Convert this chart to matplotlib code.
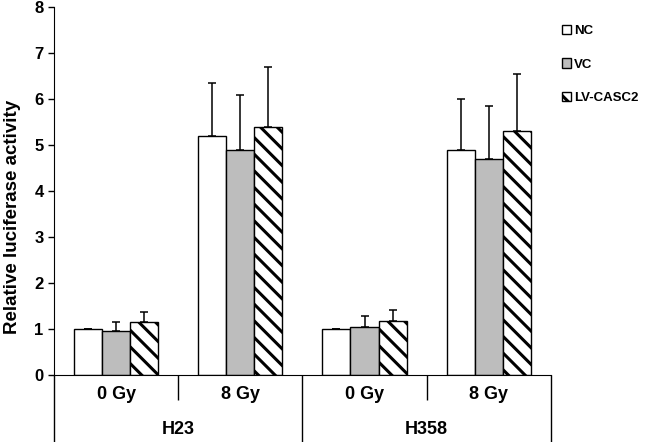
import numpy as np
import matplotlib
matplotlib.use('Agg')
import matplotlib.pyplot as plt

plt.rcParams['font.family'] = ['Liberation Sans', 'DejaVu Sans']
plt.rcParams['font.weight'] = 'bold'
plt.rcParams['hatch.linewidth'] = 2.2

doses = ['0 Gy', '8 Gy', '0 Gy', '8 Gy']
cells = ['H23', 'H358']
series = ['NC', 'VC', 'LV-CASC2']

nc = [1.0, 5.2, 1.0, 4.9]
vc = [0.95, 4.9, 1.05, 4.7]
lv = [1.15, 5.4, 1.18, 5.3]

nc_err = [0.0, 1.15, 0.0, 1.1]
vc_err = [0.2, 1.18, 0.23, 1.15]
lv_err = [0.22, 1.3, 0.24, 1.25]

fig = plt.figure(figsize=(6.45, 4.42), dpi=100)
ax = fig.add_axes([0.0837, 0.1516, 0.7703, 0.8326])

x = np.arange(len(doses))
w = 0.226
styles = [
    dict(facecolor='white', hatch=None),
    dict(facecolor='#bdbdbd', hatch=None),
    dict(facecolor='white', hatch='\\\\'),
]
vals = [nc, vc, lv]
errs = [nc_err, vc_err, lv_err]
for i, (v, e, st) in enumerate(zip(vals, errs, styles)):
    pos = x + (i - 1) * w
    ax.bar(pos, v, width=w, edgecolor='black', linewidth=1.0,
           label=series[i], zorder=2, **st)
    ax.errorbar(pos, v, yerr=[np.zeros(len(v)), e], fmt='none',
                ecolor='black', elinewidth=1.1, capsize=3, capthick=1.1, zorder=1)

ax.set_xlim(-0.5, 3.5)
ax.set_ylim(0, 8)
ax.set_yticks(range(0, 9))
ax.tick_params(axis='y', labelsize=12, length=4, width=1)
ax.set_ylabel('Relative luciferase activity', fontsize=13.5, fontweight='bold')
ax.yaxis.set_label_coords(-0.066, 0.43)
for s in ['top', 'right']:
    ax.spines[s].set_visible(False)

# nested category axis
ax.set_xticks(x)
ax.set_xticklabels(doses, fontsize=13, fontweight='bold')
ax.tick_params(axis='x', length=0, pad=8)

sec1 = ax.secondary_xaxis(location=0)
sec1.set_xticks([0.5, 2.5])
sec1.set_xticklabels([])
sec1.tick_params(axis='x', length=18, width=1)
sec1.spines['bottom'].set_visible(False)

sec2 = ax.secondary_xaxis(location=0)
sec2.set_xticks([-0.5, 1.5, 3.5])
sec2.set_xticklabels([])
sec2.tick_params(axis='x', length=50, width=1)
sec2.spines['bottom'].set_visible(False)

sec3 = ax.secondary_xaxis(location=0)
sec3.set_xticks([0.5, 2.5])
sec3.set_xticklabels(cells, fontsize=13, fontweight='bold')
sec3.tick_params(axis='x', length=0, pad=33)
sec3.spines['bottom'].set_visible(False)

fig.legend(loc='upper left', bbox_to_anchor=(0.853, 0.97), frameon=False,
           handlelength=0.7, handleheight=0.7, handletextpad=0.2,
           labelspacing=1.6, prop={'size': 9.5, 'weight': 'bold'})

fig.savefig('out.png', dpi=100)
